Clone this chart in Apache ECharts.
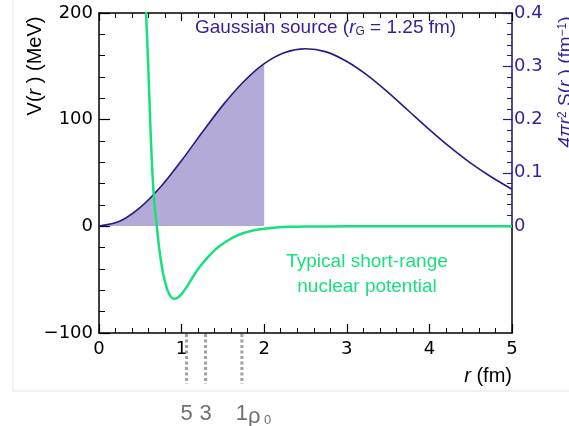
<!DOCTYPE html>
<html>
<head>
    <meta charset="utf-8"/>
    <title>Short-range potential and Gaussian source</title>
    <style>
        html, body { margin: 0; padding: 0; background: #fff; }
        #main { width: 569px; height: 426px; }
    </style>
</head>
<body>
<div id="main"></div>
<script src="https://cdn.jsdelivr.net/npm/echarts@6/dist/echarts.min.js"></script>
<script>
    // Gaussian source 4 pi r^2 S(r), fm^-1 (right axis)
    var rSource = [0, 0.25, 0.5, 0.75, 1, 1.25, 1.5, 1.75, 2, 2.25, 2.5,
        2.75, 3, 3.25, 3.5, 3.75, 4, 4.25, 4.5, 4.75, 5];
    var sourceVal = [0, 0.009, 0.035, 0.074, 0.123, 0.176, 0.227, 0.271, 0.305, 0.326, 0.333,
        0.327, 0.309, 0.283, 0.251, 0.216, 0.181, 0.148, 0.118, 0.092, 0.069];
    var shadeMaxR = 2.0;

    // typical short-range potential V(r), MeV (left axis)
    var rPot = [0.55, 0.57, 0.60, 0.625, 0.65, 0.675, 0.70, 0.72, 0.74, 0.77, 0.80, 0.83, 0.87,
        0.91, 0.95, 1.00, 1.06, 1.14, 1.22, 1.30, 1.38, 1.46, 1.55, 1.65, 1.75, 1.85, 1.95,
        2.05, 2.15, 2.30, 2.50, 2.80, 3.20, 4.00, 5.00];
    var vPot = [235, 200, 142, 88, 45, 18, 0, -15, -27, -42, -52, -60, -66,
        -68, -67, -63.5, -57, -47, -38, -30.5, -24, -18.5, -13.7, -9.5, -6.2, -4.2, -2.8,
        -1.7, -1.0, -0.5, -0.2, -0.05, 0, 0, 0];

    // density markers below the r axis
    var densityR = [1.06, 1.29, 1.73];
    var densityLabel = ['5', '3', '1'];

    var FONT = '"Liberation Sans", Arial, Helvetica, sans-serif';
    var NUMFONT = '"DejaVu Sans", "Liberation Sans", sans-serif';
    var PURPLE = '#2f1685';
    var PURPLE_TXT = '#3a1d96';
    var GREEN = '#18e07c';

    var srcPts = rSource.map(function (r, i) { return [r, sourceVal[i]]; });
    var shadePts = srcPts.filter(function (p) { return p[0] <= shadeMaxR; });
    var potPts = rPot.map(function (r, i) { return [r, vPot[i]]; });

    var chart = echarts.init(document.getElementById('main'));

    var blackLine = { show: true, onZero: false, lineStyle: { color: '#000', width: 1.5 } };
    var tickBlack = { inside: true, length: 11, lineStyle: { color: '#000', width: 1.2 } };
    var minorBlack = { show: true, splitNumber: 5, length: 6, lineStyle: { color: '#000', width: 1 } };

    var option = {
        animation: false,
        grid: [
            { left: 99, right: 57, top: 13, bottom: 93 },
            { left: 99, right: 57, top: 13, height: 213 },
            { left: 99, right: 57, top: 226, bottom: 93 }
        ],
        xAxis: [
            {
                gridIndex: 0, type: 'value', min: 0, max: 5, interval: 1, position: 'bottom',
                axisLine: blackLine,
                axisTick: { inside: true, length: 9, lineStyle: { color: '#000', width: 1.2 } },
                minorTick: { show: true, splitNumber: 5, length: 5, lineStyle: { color: '#000' } },
                axisLabel: { color: '#000', fontSize: 18, fontFamily: NUMFONT, margin: 7 },
                splitLine: { show: false }
            },
            {
                gridIndex: 0, type: 'value', min: 0, max: 5, interval: 1, position: 'top',
                axisLine: blackLine,
                axisTick: { inside: true, length: 8, lineStyle: { color: '#000', width: 1.2 } },
                minorTick: { show: true, splitNumber: 5, length: 5, lineStyle: { color: '#000' } },
                axisLabel: { show: false }, splitLine: { show: false }
            },
            { gridIndex: 1, type: 'value', min: 0, max: 5, show: false },
            { gridIndex: 2, type: 'value', min: 0, max: 5, show: false }
        ],
        yAxis: [
            {
                gridIndex: 0, type: 'value', min: -100, max: 200, interval: 100, position: 'left',
                axisLine: blackLine,
                axisTick: tickBlack, minorTick: minorBlack,
                axisLabel: {
                    color: '#000', fontSize: 18, fontFamily: NUMFONT, margin: 6,
                    formatter: function (v) { return v < 0 ? '\u2212' + Math.abs(v) : String(v); }
                },
                splitLine: { show: false }
            },
            {
                gridIndex: 1, type: 'value', min: 0, max: 0.4, interval: 0.1, position: 'right',
                axisLine: { show: true, onZero: false, lineStyle: { color: PURPLE, width: 1.6 } },
                axisTick: { inside: true, length: 9, lineStyle: { color: PURPLE, width: 1.2 } },
                minorTick: { show: true, splitNumber: 5, length: 5, lineStyle: { color: PURPLE } },
                axisLabel: {
                    color: PURPLE_TXT, fontSize: 18, fontFamily: NUMFONT, margin: 2,
                    formatter: function (v) { return v === 0 ? '0' : v.toFixed(1); }
                },
                splitLine: { show: false }
            },
            {
                // black frame below zero on the right
                gridIndex: 2, type: 'value', min: -100, max: 0, position: 'right',
                axisLine: blackLine,
                axisTick: { show: false }, axisLabel: { show: false }, splitLine: { show: false }
            }
        ],
        series: [
            {
                type: 'line', xAxisIndex: 2, yAxisIndex: 1, data: shadePts, smooth: 0.3,
                symbol: 'none', lineStyle: { width: 0 },
                areaStyle: { color: '#b3aad7', opacity: 1 }, z: 1, silent: true
            },
            {
                type: 'line', xAxisIndex: 2, yAxisIndex: 1, data: srcPts, smooth: 0.3,
                symbol: 'none', lineStyle: { color: PURPLE, width: 1.6 }, z: 2
            },
            {
                type: 'line', xAxisIndex: 0, yAxisIndex: 0, data: potPts, smooth: 0.3,
                symbol: 'none', lineStyle: { color: GREEN, width: 2.5 }, z: 3
            }
        ]
    };
    chart.setOption(option);

    var ital = { fontStyle: 'italic', fontSize: 20, fontFamily: FONT };
    var norm = { fontSize: 20, fontFamily: FONT };
    var graphics = [
        // page frame
        { type: 'line', shape: { x1: 13, y1: 0, x2: 13, y2: 391 }, style: { stroke: '#e2e2e2', lineWidth: 1 } },
        { type: 'line', shape: { x1: 13, y1: 391, x2: 569, y2: 391 }, style: { stroke: '#e2e2e2', lineWidth: 1 } },
        {
            type: 'text', x: 35, y: 66, rotation: Math.PI / 2,
            style: {
                text: '{n|V(}{i|r}{n| ) (MeV)}', align: 'center', verticalAlign: 'middle', fill: '#000',
                rich: { n: norm, i: ital }
            }
        },
        {
            type: 'text', x: 566, y: 82, rotation: Math.PI / 2,
            style: {
                text: '{i|4\u03c0r}{s|2}{n| S(}{i|r}{n| ) (fm}{s|\u22121}{n|)}',
                align: 'center', verticalAlign: 'middle', fill: PURPLE_TXT,
                rich: {
                    n: { fontSize: 19, fontFamily: FONT, fill: PURPLE_TXT },
                    i: { fontSize: 19, fontFamily: FONT, fontStyle: 'italic', fill: PURPLE_TXT },
                    s: { fontSize: 12, fontFamily: FONT, verticalAlign: 'top', fill: PURPLE_TXT }
                }
            }
        },
        {
            type: 'text', x: 512, y: 376,
            style: {
                text: '{i|r}{n| (fm)}', align: 'right', verticalAlign: 'middle', fill: '#000',
                rich: { n: norm, i: ital }
            }
        },
        {
            type: 'text', x: 195, y: 28,
            style: {
                text: '{n|Gaussian source (}{i|r}{s|G}{n| = 1.25 fm)}',
                align: 'left', verticalAlign: 'middle', fill: PURPLE_TXT,
                rich: {
                    n: { fontSize: 19, fontFamily: FONT, fill: PURPLE_TXT },
                    i: { fontSize: 19, fontFamily: FONT, fontStyle: 'italic', fill: PURPLE_TXT },
                    s: { fontSize: 12, fontFamily: FONT, verticalAlign: 'bottom', fill: PURPLE_TXT }
                }
            }
        },
        {
            type: 'text', x: 367, y: 262,
            style: { text: 'Typical short-range', align: 'center', verticalAlign: 'middle', fill: GREEN, fontSize: 19, fontFamily: FONT }
        },
        {
            type: 'text', x: 367, y: 287,
            style: { text: 'nuclear potential', align: 'center', verticalAlign: 'middle', fill: GREEN, fontSize: 19, fontFamily: FONT }
        }
    ];

    densityR.forEach(function (r, i) {
        var px = chart.convertToPixel({ xAxisIndex: 0 }, r);
        graphics.push({
            type: 'line', shape: { x1: px, y1: 334, x2: px, y2: 384 },
            style: { stroke: '#a0a0a0', lineWidth: 3, lineDash: [3, 2.5] }
        });
        graphics.push({
            type: 'text', x: px, y: 414,
            style: { text: densityLabel[i], align: 'center', verticalAlign: 'middle', fill: '#707070', fontSize: 22, fontFamily: FONT }
        });
        if (i === densityR.length - 1) {
            graphics.push({
                type: 'text', x: px + 6, y: 417,
                style: { text: '\u03c1', align: 'left', verticalAlign: 'middle', fill: '#707070', fontSize: 22, fontFamily: FONT }
            });
            graphics.push({
                type: 'text', x: px + 22, y: 420,
                style: { text: '0', align: 'left', verticalAlign: 'middle', fill: '#707070', fontSize: 13, fontFamily: FONT }
            });
        }
    });

    chart.setOption({ graphic: graphics });
</script>
</body>
</html>
